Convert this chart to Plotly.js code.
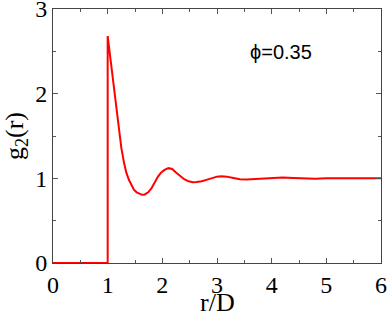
<!DOCTYPE html>
<html>
<head>
<meta charset="utf-8">
<script src="https://cdn.plot.ly/plotly-3.0.1.min.js"></script>
<style>
  body { margin: 0; background: #fff; }
  #chart { width: 388px; height: 311px; }
</style>
</head>
<body>
<div id="chart"></div>
<script>
// radial distribution function
var rValues = [0, 1, 1, 1.03, 1.06, 1.10, 1.13, 1.17, 1.20, 1.25, 1.30, 1.34, 1.39, 1.44,
    1.48, 1.53, 1.58, 1.63, 1.68, 1.74, 1.80, 1.86, 1.92, 1.98, 2.04, 2.11, 2.18, 2.25, 2.32,
    2.40, 2.48, 2.56, 2.63, 2.72, 2.82, 2.92, 3.00, 3.08, 3.18, 3.30, 3.42, 3.54, 3.66,
    3.78, 3.91, 4.05, 4.20, 4.40, 4.60, 4.80, 5.00, 5.30, 5.60, 6.00]
var gValues = [0, 0, 2.68, 2.52, 2.36, 2.14, 1.97, 1.74, 1.57, 1.36, 1.18, 1.07, 0.98, 0.91,
    0.865, 0.835, 0.815, 0.805, 0.81, 0.835, 0.88, 0.95, 1.02, 1.07, 1.10, 1.12, 1.11, 1.07, 1.03,
    0.99, 0.965, 0.955, 0.956, 0.965, 0.985, 1.005, 1.02, 1.025, 1.02, 1.005, 0.99, 0.985, 0.99,
    0.995, 1.0, 1.005, 1.01, 1.005, 0.998, 0.996, 1.0, 1.002, 1.0, 1.0]
var xTicks = [0, 1, 2, 3, 4, 5, 6]
var yTicks = [0, 1, 2, 3]
var xTitle = "r/D"
var yTitle = "g<sub>2</sub>(r)"
var phiLabel = "\u03D5=0.35"

var serif = "'Liberation Serif', 'Times New Roman', serif"

var data = [{
    x: rValues,
    y: gValues,
    type: "scatter",
    mode: "lines",
    line: {color: "#ff0000", width: 2},
    hoverinfo: "skip"
}]

function axisStyle(ticks, range) {
    return {
        range: range,
        tickvals: ticks,
        ticktext: ticks.map(String),
        ticks: "inside",
        ticklen: 5,
        tickwidth: 1,
        tickcolor: "#555",
        minor: {ticks: "inside", dtick: 0.5, ticklen: 3, tickcolor: "#555", showgrid: false},
        showline: true,
        linecolor: "#444",
        linewidth: 1,
        mirror: "ticks",
        showgrid: false,
        zeroline: false,
        ticklabeloverflow: "allow",
        tickfont: {family: serif, size: 24, color: "#000"}
    }
}

var xaxis = axisStyle(xTicks, [0, 6])
var yaxis = axisStyle(yTicks, [0, 3])
yaxis.title = {text: yTitle, standoff: 7, font: {family: serif, size: 26, color: "#000"}}

var layout = {
    width: 388,
    height: 311,
    margin: {l: 53, r: 7, t: 9, b: 48},
    paper_bgcolor: "#fff",
    plot_bgcolor: "#fff",
    showlegend: false,
    xaxis: xaxis,
    yaxis: yaxis,
    annotations: [{
        x: 3.56, y: 2.49,
        xref: "x", yref: "y",
        xanchor: "left", yanchor: "middle",
        text: phiLabel,
        showarrow: false,
        font: {family: "'Liberation Sans', Arial, sans-serif", size: 20, color: "#000"}
    }, {
        // x axis title, set lower than plotly's margin-bound title
        x: 0.5, y: -0.155,
        xref: "paper", yref: "paper",
        xanchor: "center", yanchor: "middle",
        text: xTitle,
        showarrow: false,
        font: {family: serif, size: 26, color: "#000"}
    }]
}

Plotly.newPlot("chart", data, layout, {staticPlot: true})
</script>
</body>
</html>
